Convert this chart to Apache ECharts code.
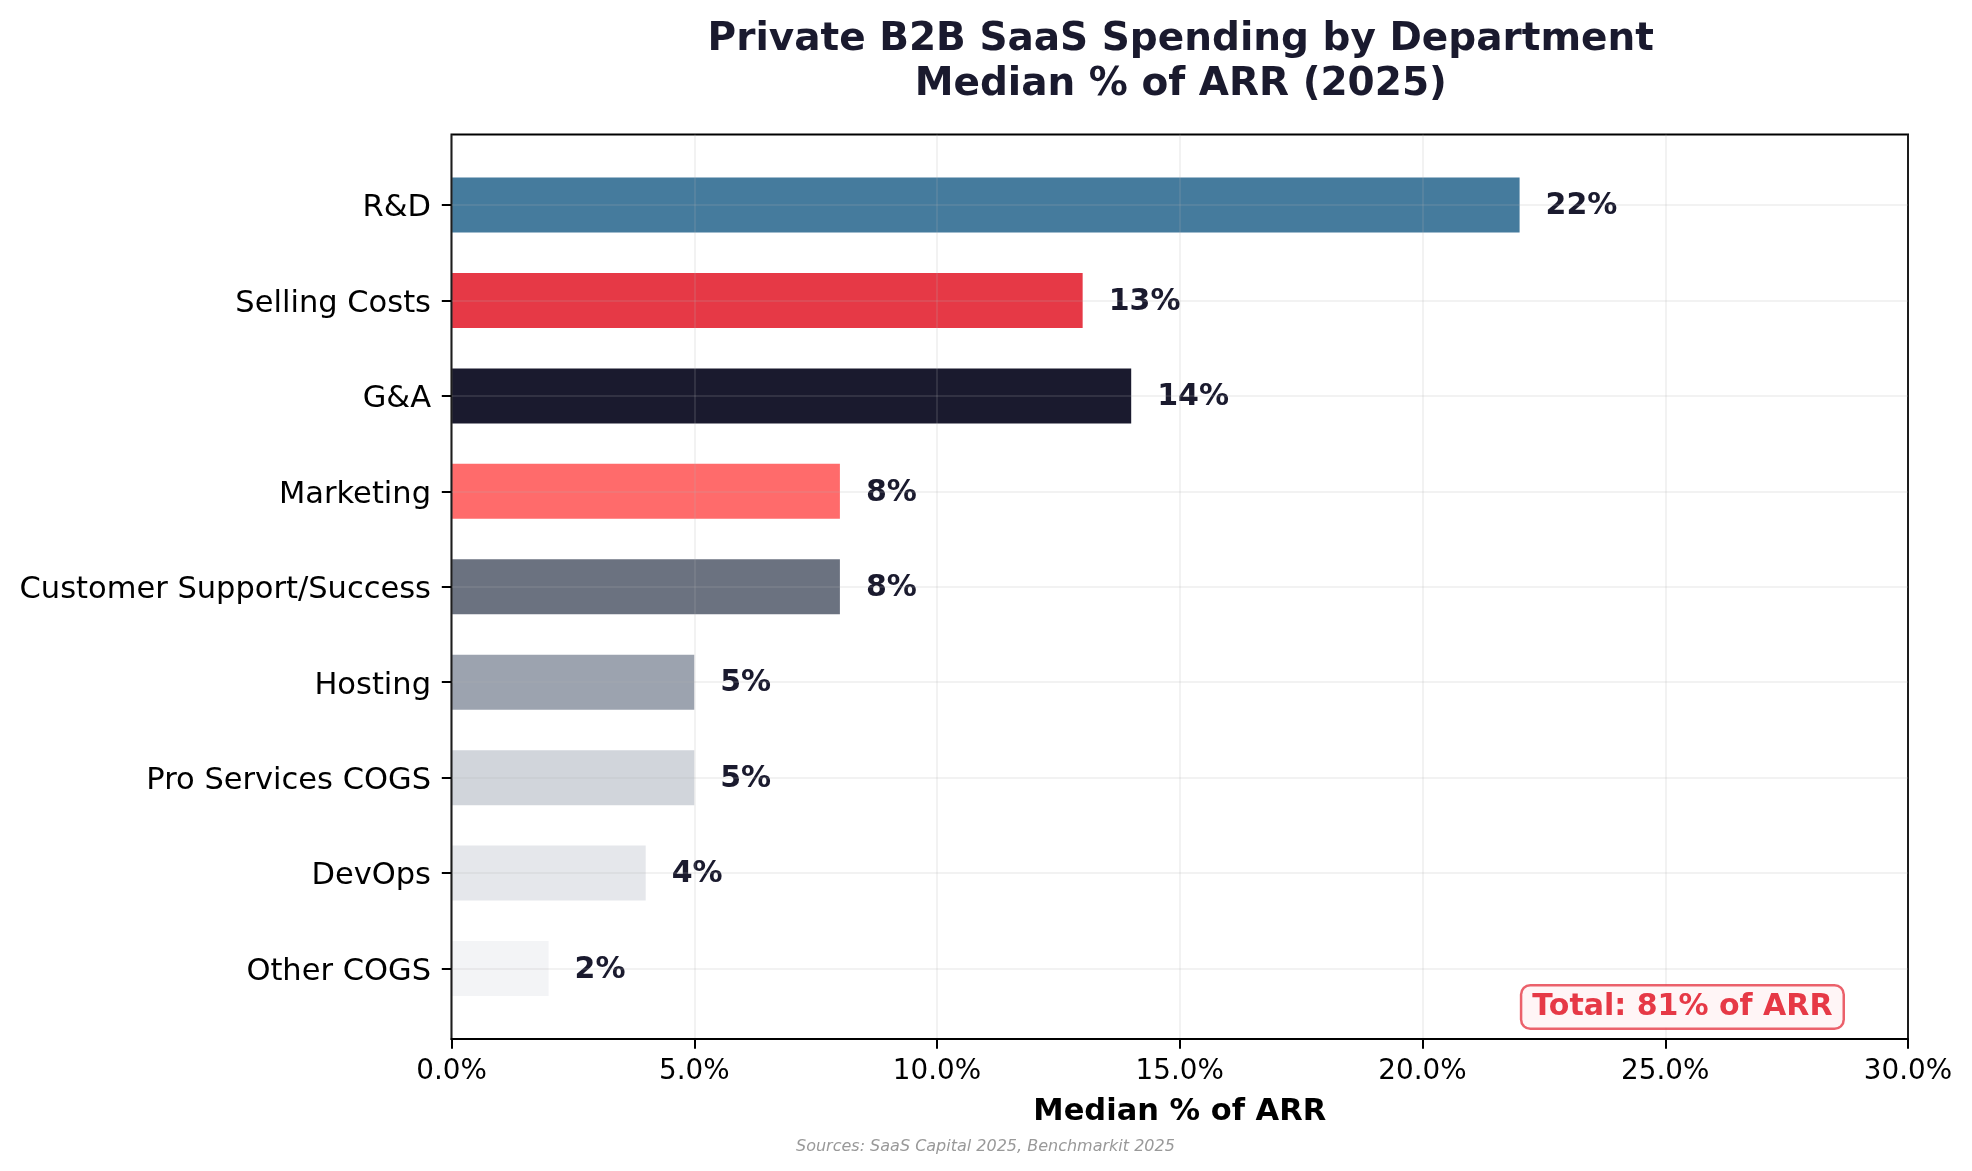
<!DOCTYPE html>
<html>
<head>
<meta charset="utf-8">
<script src="https://cdn.jsdelivr.net/npm/echarts@6/dist/echarts.min.js"></script>
<style>html,body{margin:0;padding:0;background:#fff}#c{width:1972px;height:1171px}</style>
</head>
<body>
<div id="c"></div>
<script>
const categories = ['R&D', 'Selling Costs', 'G&A', 'Marketing', 'Customer Support/Success', 'Hosting', 'Pro Services COGS', 'DevOps', 'Other COGS'];
const values = [22, 13, 14, 8, 8, 5, 5, 4, 2];
const xTicks = [0, 5, 10, 15, 20, 25, 30];
const titleLines = ['Private B2B SaaS Spending by Department', 'Median % of ARR (2025)'];
const xName = 'Median % of ARR';
const sourceText = 'Sources: SaaS Capital 2025, Benchmarkit 2025';

const palette = ['#457B9D', '#E63946', '#1A1A2E', '#FF6B6B', '#6B7280', '#9CA3AF', '#D1D5DB', '#E5E7EB', '#F3F4F6'];
const FONT = 'DejaVu Sans';
const total = values.reduce((a, b) => a + b, 0);

const chart = echarts.init(document.getElementById('c'), null, {renderer: 'canvas'});
const L = 451.5, R = 64;
const option = {
  backgroundColor: '#ffffff',
  animation: false,
  title: {
    text: titleLines.join('\n'),
    left: (L + 1972 - R) / 2 - 4,
    textAlign: 'center',
    top: 12,
    textStyle: {fontFamily: FONT, fontWeight: 'bold', fontSize: 39, color: '#1A1A2E', lineHeight: 45}
  },
  grid: [
    {left: L, right: R, top: 205, bottom: 202.5, containLabel: false},
    {left: L, right: R, top: 134.6, bottom: 132, show: true, borderColor: '#000', borderWidth: 2, backgroundColor: 'transparent', z: 5}
  ],
  xAxis: [
    {gridIndex: 0, type: 'value', min: xTicks[0], max: xTicks[xTicks.length - 1], show: false},
    {gridIndex: 1, type: 'value', min: xTicks[0], max: xTicks[xTicks.length - 1], interval: xTicks[1] - xTicks[0], z: 5,
     axisLine: {show: true, lineStyle: {color: '#000', width: 2}},
     axisTick: {show: true, inside: false, length: 9.7, lineStyle: {color: '#000', width: 2}},
     axisLabel: {margin: 19, fontFamily: FONT, fontSize: 27.8, color: '#000', formatter: v => v.toFixed(1) + '%'},
     splitLine: {show: true, lineStyle: {color: 'rgba(176,176,176,0.22)', width: 1.5}},
     name: xName, nameLocation: 'middle', nameGap: 58,
     nameTextStyle: {fontFamily: FONT, fontWeight: 'bold', fontSize: 30.5, color: '#000'}
    }
  ],
  yAxis: [
    {gridIndex: 0, type: 'category', data: categories, inverse: true, boundaryGap: false, z: 5,
     axisLine: {show: false},
     axisTick: {show: true, inside: false, length: 9.7, alignWithLabel: true, lineStyle: {color: '#000', width: 2}},
     axisLabel: {margin: 20.5, formatter: v => '{a|' + v + '}',
                 rich: {a: {fontFamily: FONT, fontSize: 30.5, color: '#000', padding: [7, 0, 0, 0]}}},
     splitLine: {show: true, lineStyle: {color: 'rgba(176,176,176,0.22)', width: 1.5}}
    },
    {gridIndex: 1, type: 'value', show: false}
  ],
  series: [{
    type: 'bar',
    xAxisIndex: 0, yAxisIndex: 0,
    barWidth: 55,
    clip: false,
    z: 2,
    data: values.map((v, i) => ({value: v, itemStyle: {color: palette[i], opacity: 1}})),
    label: {show: true, position: 'right', distance: 26, offset: [0, 1.5], formatter: p => p.value + '%',
            fontFamily: FONT, fontWeight: 'bold', fontSize: 30, color: '#1A1A2E'}
  }],
  graphic: [
    {type: 'text', right: 127, bottom: 141, z: 10,
     style: {text: 'Total: ' + total + '% of ARR', font: 'bold 30px "DejaVu Sans"', fill: '#E63946',
             backgroundColor: '#FFF5F6', borderColor: 'rgba(230,57,70,0.8)', borderWidth: 2.5, borderRadius: 8, padding: [6, 10, 5, 10]}},
    {type: 'text', left: 986 - 190, top: 1139, z: 10,
     style: {text: sourceText, font: 'italic 16px "DejaVu Sans"', fill: '#999999'}}
  ]
};
chart.setOption(option);
</script>
</body>
</html>
